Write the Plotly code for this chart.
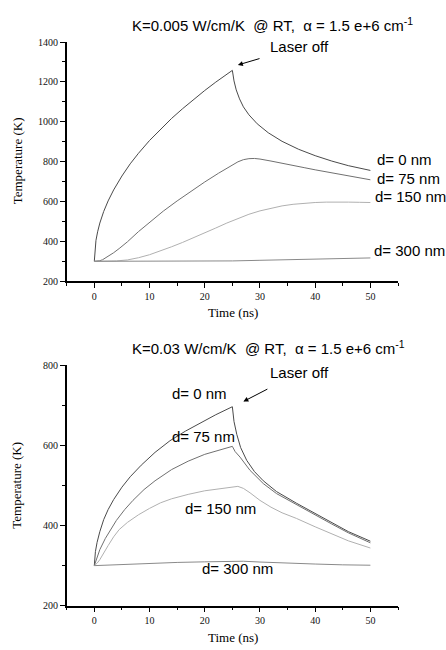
import plotly.graph_objects as go

# ---------------- data (top panel: K=0.005 W/cm/K) ----------------
top_t_d0 = [0, 0.1, 0.3, 0.6, 1, 1.7, 2.5, 3.5, 5, 6.5, 8, 10, 12, 14, 16, 18, 20, 22, 24, 25,
            25.3, 25.7, 26.3, 27, 28, 29.5, 31.5, 34, 37, 40, 43, 46, 50]
top_T_d0 = [300, 360, 405, 448, 492, 550, 603, 658, 728, 789, 842, 906, 964, 1017, 1066, 1113, 1157, 1199, 1239, 1258,
            1205, 1160, 1115, 1075, 1035, 990, 945, 902, 862, 830, 803, 780, 756]

top_t_d75 = [0, 0.5, 1, 1.5, 2, 2.7, 3.5, 4.5, 6, 8, 10, 12.5, 15, 17.5, 20, 22.5, 25, 26, 27, 28, 29, 30,
             32, 34, 36, 38, 40, 43, 46, 50]
top_T_d75 = [300, 300, 303, 308, 316, 328, 343, 364, 398, 449, 497, 552, 603, 652, 698, 742, 783, 799, 810, 815, 816, 813,
             803, 791, 780, 770, 759, 744, 729, 709]

top_t_d150 = [0, 2, 4, 6, 8, 10, 12, 14, 16, 18, 20, 22, 24, 26, 28, 30, 32, 34, 36, 38, 40, 42, 44, 46, 48, 50]
top_T_d150 = [300, 300, 302, 307, 318, 333, 352, 373, 395, 418, 442, 467, 492, 515, 536, 553, 567, 578, 586, 592,
              595, 597, 598, 597, 596, 595]

top_t_d300 = [0, 10, 20, 25, 30, 35, 40, 45, 50]
top_T_d300 = [300, 300, 301, 302, 305, 308, 311, 314, 317]

# ---------------- data (bottom panel: K=0.03 W/cm/K) ----------------
bot_t_d0 = [0, 0.2, 0.5, 1, 1.7, 2.5, 3.5, 5, 6.5, 8.5, 11, 13.7, 16.5, 19.2, 22, 25,
            25.3, 25.8, 26.5, 27.6, 29, 30.6, 33, 36.6, 40, 43, 46, 50]
bot_T_d0 = [300, 335, 358, 385, 415, 440, 465, 496, 522, 551, 583, 612, 636, 657, 677, 697,
            660, 628, 595, 563, 535, 512, 485, 456, 430, 407, 385, 361]

bot_t_d75 = [0, 0.5, 1, 2, 3, 4, 5.5, 7, 9, 11, 14, 17, 20, 23, 25,
             25.5, 26.4, 28.2, 30.6, 33, 36.6, 40, 43, 46, 50]
bot_T_d75 = [300, 322, 340, 368, 392, 413, 440, 463, 490, 512, 540, 561, 578, 591, 598,
             585, 571, 538, 505, 480, 452, 427, 404, 382, 357]

bot_t_d150 = [0, 0.5, 1, 1.7, 2.5, 3.5, 4.5, 6, 8, 10, 12, 14, 17, 20, 23, 26,
              27, 28.2, 30, 32, 34, 36.6, 40, 43, 46, 50]
bot_T_d150 = [300, 306, 315, 330, 350, 372, 390, 408, 427, 443, 457, 467, 478, 487, 493, 498,
              493, 482, 463, 446, 432, 418, 397, 380, 362, 344]

bot_t_d300 = [0, 5, 10, 15, 20, 25, 27, 30, 35, 40, 45, 50]
bot_T_d300 = [300, 303, 306, 308, 309.5, 311, 311, 309, 306, 304, 302, 301]

x_ticks = [0, 10, 20, 30, 40, 50]
top_y_ticks = [200, 400, 600, 800, 1000, 1200, 1400]
bot_y_ticks = [200, 400, 600, 800]

top_title = "K=0.005 W/cm/K  @ RT,  \u03b1 = 1.5 e+6 cm<sup>-1</sup>"
bot_title = "K=0.03 W/cm/K  @ RT,  \u03b1 = 1.5 e+6 cm<sup>-1</sup>"
labels = ["d= 0 nm", "d= 75 nm", "d= 150 nm", "d= 300 nm"]

# ---------------- figure ----------------
fig = go.Figure()
C0, C75, C150, C300 = "#4a4a4a", "#707070", "#b0b0b0", "#8a8a8a"

def add(t, T, c, xa, ya):
    fig.add_trace(go.Scatter(x=t, y=T, mode="lines", line=dict(color=c, width=1),
                             xaxis=xa, yaxis=ya, showlegend=False, hoverinfo="skip"))

add(top_t_d0, top_T_d0, C0, "x", "y")
add(top_t_d75, top_T_d75, C75, "x", "y")
add(top_t_d150, top_T_d150, C150, "x", "y")
add(top_t_d300, top_T_d300, C300, "x", "y")
add(bot_t_d0, bot_T_d0, C0, "x2", "y2")
add(bot_t_d75, bot_T_d75, C75, "x2", "y2")
add(bot_t_d150, bot_T_d150, C150, "x2", "y2")
add(bot_t_d300, bot_T_d300, C300, "x2", "y2")

W, H = 446, 650
def px(x): return x / W
def py(y): return 1 - y / H

tickfont = dict(family="Liberation Serif", size=10, color="#111")
xcommon = dict(range=[-5, 55], tickvals=x_ticks, ticks="outside", ticklen=5, tickwidth=1.2,
               showline=True, linecolor="black", linewidth=1.5, showgrid=False, zeroline=False,
               tickfont=tickfont, tickcolor="black",
               minor=dict(dtick=5, tick0=0, ticks="outside", ticklen=3, tickwidth=1, tickcolor="black"))
ycommon = dict(ticks="outside", ticklen=5, tickwidth=1.2, showline=True, linecolor="black", linewidth=1.5,
               showgrid=False, zeroline=False, tickfont=tickfont, tickcolor="black",
               minor=dict(dtick=100, tick0=0, ticks="outside", ticklen=3, tickwidth=1, tickcolor="black"))

fig.update_layout(
    width=W, height=H, margin=dict(l=0, r=0, t=0, b=0),
    paper_bgcolor="white", plot_bgcolor="white",
    xaxis=dict(domain=[px(66.7), px(398)], anchor="y", **xcommon),
    yaxis=dict(domain=[py(281), py(37.7)], anchor="x", range=[200, 1400], tickvals=top_y_ticks, **ycommon),
    xaxis2=dict(domain=[px(66.7), px(398)], anchor="y2", **xcommon),
    yaxis2=dict(domain=[py(611), py(366.7)], anchor="x2", range=[200, 800], tickvals=bot_y_ticks, **ycommon),
)

sans = dict(family="Liberation Sans", size=15, color="black")
serif = dict(family="Liberation Serif", size=13, color="black")
ann = []
# titles
ann.append(dict(text=top_title, x=px(272), y=py(20), xref="paper", yref="paper", showarrow=False,
                xanchor="center", yanchor="middle", font=sans))
ann.append(dict(text=bot_title, x=px(268), y=py(348), xref="paper", yref="paper", showarrow=False,
                xanchor="center", yanchor="middle", font=sans))
# axis titles
for yc in (159, 489):
    ann.append(dict(text="Temperature (K)", x=px(17), y=py(yc), xref="paper", yref="paper", showarrow=False,
                    xanchor="center", yanchor="middle", textangle=-90, font=serif))
for yc in (313, 643):
    ann.append(dict(text="Time (ns)", x=px(233), y=py(yc), xref="paper", yref="paper", showarrow=False,
                    xanchor="center", yanchor="middle", font=serif))

# curve labels
top_lab_pos = [(50.8, 811), (50.8, 718), (50.45, 624), (50.3, 353)]
for lab, (xx, yy) in zip(labels, top_lab_pos):
    ann.append(dict(text=lab, x=xx, y=yy, xref="x", yref="y", xanchor="left", yanchor="middle",
                    showarrow=False, font=sans))
bot_lab_pos = [(13.7, 731), (13.7, 623), (16.1, 443), (19.2, 293)]
for lab, (xx, yy) in zip(labels, bot_lab_pos):
    ann.append(dict(text=lab, x=xx, y=yy, xref="x2", yref="y2", xanchor="left", yanchor="middle",
                    showarrow=False, font=sans))

# "Laser off" with arrow pointing to the switch-off peak
ann.append(dict(text="Laser off", x=26, y=1285, ax=37.1, ay=1376, xref="x", yref="y", axref="x", ayref="y",
                showarrow=True, arrowhead=2, arrowsize=1, arrowwidth=1, arrowcolor="black",
                startstandoff=9, font=sans))
ann.append(dict(text="Laser off", x=27, y=710, ax=37.1, ay=782, xref="x2", yref="y2", axref="x2", ayref="y2",
                showarrow=True, arrowhead=2, arrowsize=1, arrowwidth=1, arrowcolor="black",
                startstandoff=14, font=sans))

fig.update_layout(annotations=ann)
fig.write_html("out.html")
